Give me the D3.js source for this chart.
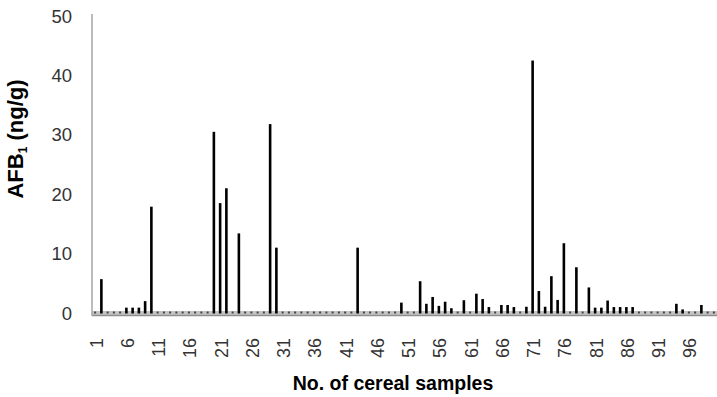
<!DOCTYPE html>
<html lang="en">

<head>
    <meta charset="UTF-8">
    <title>AFB1 in cereal samples</title>
    <script src="https://d3js.org/d3.v7.min.js"></script>
    <style>
        body,
        html {
            margin: 0;
            padding: 0;
            overflow: hidden;
            background: #fff;
        }

        svg {
            display: block;
            font-family: "Liberation Sans", Arial, sans-serif;
        }
    </style>
</head>

<body>
    <script>
        // sample numbers 1..100
        const samples = d3.range(1, 101);

        // AFB1 level per sample (ng/g); 0 = not detected
        const afb1 = [
            0, 5.7, 0, 0, 0, 0.9, 0.9, 0.9, 2.0, 17.9,
            0, 0, 0, 0, 0, 0, 0, 0, 0, 30.5,
            18.5, 21.0, 0, 13.4, 0, 0, 0, 0, 31.8, 11.0,
            0, 0, 0, 0, 0, 0, 0, 0, 0, 0,
            0, 0, 11.0, 0, 0, 0, 0, 0, 0, 1.75,
            0, 0, 5.35, 1.55, 2.7, 1.2, 1.9, 0.8, 0, 2.15,
            0, 3.25, 2.35, 1.0, 0, 1.35, 1.35, 1.0, 0, 1.05,
            42.5, 3.7, 1.05, 6.2, 2.2, 11.75, 0, 7.7, 0, 4.3,
            0.9, 0.9, 2.1, 1.0, 1.0, 1.0, 1.0, 0, 0, 0,
            0, 0, 0, 1.55, 0.6, 0, 0, 1.35, 0, 0
        ];

        const yTicks = [0, 10, 20, 30, 40, 50];
        const xTickLabels = samples.filter(d => (d - 1) % 5 === 0);

        const width = 717;
        const height = 397;

        const svg = d3.select("body")
            .append("svg")
            .attr("width", width)
            .attr("height", height);

        // plot area
        const plotLeft = 92, plotRight = 717, plotTop = 16, plotBottom = 313;

        const x = d3.scaleBand()
            .domain(samples)
            .range([plotLeft, plotRight])
            .padding(0);

        const y = d3.scaleLinear()
            .domain([0, 50])
            .range([plotBottom, plotTop]);

        const cx = d => x(d) + x.bandwidth() / 2;

        // grey base band along the x axis
        svg.append("rect")
            .attr("x", plotLeft)
            .attr("y", y(0) - 2)
            .attr("width", plotRight - plotLeft)
            .attr("height", 5)
            .attr("fill", "#c4c4c4");

        svg.append("line")
            .attr("x1", plotLeft)
            .attr("x2", plotRight)
            .attr("y1", y(0) + 2.5)
            .attr("y2", y(0) + 2.5)
            .attr("stroke", "#8f8f8f")
            .attr("stroke-width", 1.5);

        // y axis line
        svg.append("line")
            .attr("x1", plotLeft)
            .attr("x2", plotLeft)
            .attr("y1", y(50) - 2)
            .attr("y2", y(0) + 3)
            .attr("stroke", "#a6a6a6")
            .attr("stroke-width", 1.5);

        // tiny marks for the zero samples
        svg.selectAll("rect.zero")
            .data(samples.filter((d, i) => afb1[i] === 0))
            .enter()
            .append("rect")
            .attr("class", "zero")
            .attr("x", d => cx(d) - 1)
            .attr("y", y(0) - 1.5)
            .attr("width", 2)
            .attr("height", 2)
            .attr("fill", "#444");

        // bars
        svg.selectAll("rect.bar")
            .data(samples.filter((d, i) => afb1[i] > 0))
            .enter()
            .append("rect")
            .attr("class", "bar")
            .attr("x", d => cx(d) - 1.3)
            .attr("y", d => y(afb1[d - 1]))
            .attr("width", 2.6)
            .attr("height", d => y(0) - y(afb1[d - 1]) + 0.5)
            .attr("fill", "#000");

        // y tick labels
        svg.selectAll("text.ytick")
            .data(yTicks)
            .enter()
            .append("text")
            .attr("class", "ytick")
            .attr("x", 72)
            .attr("y", d => y(d))
            .attr("dy", "0.36em")
            .attr("text-anchor", "end")
            .attr("font-size", 18.5)
            .attr("fill", "#333")
            .text(d => d);

        // x tick labels, rotated
        svg.selectAll("text.xtick")
            .data(xTickLabels)
            .enter()
            .append("text")
            .attr("class", "xtick")
            .attr("transform", d => `translate(${cx(d) + 1},338) rotate(-90)`)
            .attr("dy", "0.36em")
            .attr("text-anchor", "end")
            .attr("font-size", 18)
            .attr("fill", "#333")
            .text(d => d);

        // axis titles
        svg.append("text")
            .attr("x", 393)
            .attr("y", 390)
            .attr("text-anchor", "middle")
            .attr("font-size", 19.5)
            .attr("font-weight", "bold")
            .text("No. of cereal samples");

        const yTitle = svg.append("text")
            .attr("transform", "translate(23,139) rotate(-90)")
            .attr("text-anchor", "middle")
            .attr("font-size", 22)
            .attr("font-weight", "bold");
        yTitle.append("tspan").text("AFB");
        yTitle.append("tspan").attr("font-size", 12).attr("dy", 4).text("1");
        yTitle.append("tspan").attr("dy", -4).text(" (ng/g)");
    </script>
</body>

</html>
